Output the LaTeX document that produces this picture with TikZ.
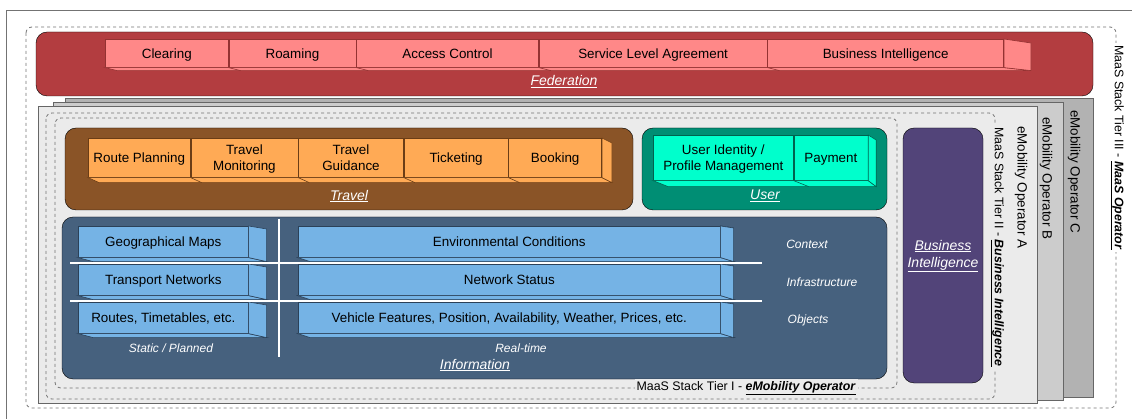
\documentclass[tikz,border=0pt]{standalone}
\usepackage{fontspec}
\setmainfont{Liberation Sans}
\usetikzlibrary{calc}

\definecolor{fedbox}{HTML}{B33D40}
\definecolor{fedfill}{HTML}{FF8888}
\definecolor{fedline}{HTML}{943232}
\definecolor{travelbox}{HTML}{8A5427}
\definecolor{travelfill}{HTML}{FFAA55}
\definecolor{travelline}{HTML}{6B3D16}
\definecolor{userbox}{HTML}{008E74}
\definecolor{userfill}{HTML}{00FFCC}
\definecolor{userline}{HTML}{00634F}
\definecolor{infobox}{HTML}{46617E}
\definecolor{infofill}{HTML}{75B3E5}
\definecolor{infoline}{HTML}{2B4158}
\definecolor{bibox}{HTML}{524479}
\definecolor{opA}{HTML}{EBEBEB}
\definecolor{opB}{HTML}{CCCCCC}
\definecolor{opC}{HTML}{B2B2B2}

\tikzset{
  layer/.style={rounded corners=11pt},
  tier/.style={draw=black!55, dashed, rounded corners=6pt, line width=0.8pt},
  operator/.style={draw=black!60, line width=0.9pt},
  slab/.style={inner sep=0pt, anchor=north west, align=center, text depth=0pt,
    font=\fontsize{13.4}{15.5}\selectfont, line width=0.6pt},
  fed item/.style={slab, draw=fedline, fill=fedfill, minimum height=28pt},
  travel item/.style={slab, draw=travelline, fill=travelfill, minimum height=39pt},
  user item/.style={slab, draw=userline, fill=userfill, minimum height=45pt},
  info item/.style={slab, draw=infoline, fill=infofill, minimum height=31pt},
  layername/.style={text=white, align=center, font=\fontsize{14}{17}\selectfont\itshape},
  rowname/.style={text=white, font=\fontsize{12}{14}\selectfont\itshape},
  tiername/.style={font=\fontsize{12.4}{14}\selectfont, inner sep=2pt},
  opname/.style={font=\fontsize{13.4}{15}\selectfont, rotate=-90, anchor=west, inner sep=0pt},
  divider/.style={white, line width=1.6pt},
}

% bottom and side faces of a row of items
\newcommand{\slabdepth}[7]{%
  \draw[#3] (#1.south west) -- ++(#4,#5) -- ($(#2.south east)+(#6,#5)$) -- (#2.south east) -- cycle;
  \draw[#3] (#2.north east) -- ++(#6,#7) -- ($(#2.south east)+(#6,#5)$) -- (#2.south east) -- cycle;
}

\begin{document}
\begin{tikzpicture}[x=1pt, y=-1pt]
\useasboundingbox (0,0) rectangle (1132,419);

% frame
\draw[black!55, line width=0.9pt] (6,440) -- (6,10) -- (1150,10);

% tier III
\draw[tier] (26,27) rectangle (1116,408);

% operators
\draw[operator, fill=opC] (65,98) rectangle (1093,397);
\draw[operator, fill=opB] (53,102) rectangle (1063,400);
\draw[operator, fill=opA] (38,106) rectangle (1037,403);

% tiers II and I
\draw[tier] (46,113) rectangle (995,399);
\draw[tier] (55,118) rectangle (897,388);

% layers
\draw[layer, fill=fedbox] (36,32) rectangle (1093,96);
\draw[layer, fill=travelbox] (65,128) rectangle (633,210);
\draw[layer, fill=userbox] (642,128) rectangle (887,210);
\draw[layer, fill=infobox] (62,217) rectangle (887,379);
\draw[layer, fill=bibox] (903,128) rectangle (983,383);

% federation
\node[fed item, minimum width=123pt] (clearing) at (105,39) {Clearing};
\node[fed item, minimum width=127pt] (roaming) at (clearing.north east) {Roaming};
\node[fed item, minimum width=182pt] (access) at (roaming.north east) {Access Control};
\node[fed item, minimum width=228pt] (sla) at (access.north east) {Service Level Agreement};
\node[fed item, minimum width=236pt] (fedbi) at (sla.north east) {Business Intelligence};
\slabdepth{clearing}{fedbi}{draw=fedline, fill=fedfill, line width=0.6pt}{12}{3}{27}{4}
\foreach \n in {clearing,roaming,access,sla}
  \draw[fedline, line width=0.6pt] (\n.south east) -- ++(12,3);
\node[layername] (federation) at (564,82) {\underline{Federation}};

% travel
\node[travel item, minimum width=102pt] (routeplan) at (88,138) {Route Planning};
\node[travel item, minimum width=107pt] (travelmon) at (routeplan.north east) {Travel\\Monitoring};
\node[travel item, minimum width=105pt] (travelguide) at (travelmon.north east) {Travel\\Guidance};
\node[travel item, minimum width=104pt] (ticketing) at (travelguide.north east) {Ticketing};
\node[travel item, minimum width=93pt] (booking) at (ticketing.north east) {Booking};
\slabdepth{routeplan}{booking}{draw=travelline, fill=travelfill, line width=0.6pt}{11}{5}{10}{5}
\foreach \n in {routeplan,travelmon,travelguide,ticketing}
  \draw[travelline, line width=0.6pt] (\n.south east) -- ++(11,5);
\node[layername] (travel) at (349,196) {\underline{Travel}};

% user
\node[user item, minimum width=140pt] (identity) at (653,135) {User Identity /\\Profile Management};
\node[user item, minimum width=74pt] (payment) at (identity.north east) {Payment};
\slabdepth{identity}{payment}{draw=userline, fill=userfill, line width=0.6pt}{15}{6}{8}{5}
\draw[userline, line width=0.6pt] (identity.south east) -- ++(15,6);
\node[layername] (user) at (765,196) {\underline{User}};

% information
\node[info item, minimum width=170pt] (geomaps) at (78,226) {Geographical Maps};
\node[info item, minimum width=170pt] (transport) at (78,264) {Transport Networks};
\node[info item, minimum width=170pt] (routes) at (78,302) {Routes, Timetables, etc.};
\node[info item, minimum width=422pt] (environment) at (298,226) {Environmental Conditions};
\node[info item, minimum width=422pt] (netstatus) at (298,264) {Network Status};
\node[info item, minimum width=422pt] (vehicles) at (298,302) {Vehicle Features, Position, Availability, Weather, Prices, etc.};
\foreach \n in {geomaps,transport,routes}
  \slabdepth{\n}{\n}{draw=infoline, fill=infofill, line width=0.6pt}{15}{4}{18}{3}
\foreach \n in {environment,netstatus,vehicles}
  \slabdepth{\n}{\n}{draw=infoline, fill=infofill, line width=0.6pt}{12}{4}{13}{2}
\draw[divider] (70,263) -- (762,263);
\draw[divider] (70,301) -- (762,301);
\draw[divider] (279,219) -- (279,357);
\node[rowname] (context) at (807,244) {Context};
\node[rowname] (infrastructure) at (822,282) {Infrastructure};
\node[rowname] (objects) at (808,320) {Objects};
\node[rowname] (static) at (171,348) {Static / Planned};
\node[rowname] (realtime) at (521,348) {Real-time};
\node[layername] (information) at (475,365) {\underline{Information}};

% business intelligence
\node[layername] (bilabel) at (943,256) {\underline{Business}\\\underline{Intelligence}};

% operator and tier labels
\node[opname] (opC) at (1074,110) {eMobility Operator C};
\node[opname] (opB) at (1046,117) {eMobility Operator B};
\node[opname] (opA) at (1021,126) {eMobility Operator A};
\node[tiername, fill=opA, rotate=-90, anchor=west] (tier2) at (997,125)
  {MaaS Stack Tier II - \underline{\textbf{\textit{Business Intelligence}}}};
\node[tiername, fill=white, rotate=-90, anchor=west] (tier3) at (1117,43)
  {MaaS Stack Tier III - \underline{\textbf{\textit{MaaS Operator}}}};
\node[tiername, fill=opA, anchor=east] (tier1) at (858,388)
  {MaaS Stack Tier I - \underline{\textbf{\textit{eMobility Operator}}}};
\end{tikzpicture}
\end{document}
